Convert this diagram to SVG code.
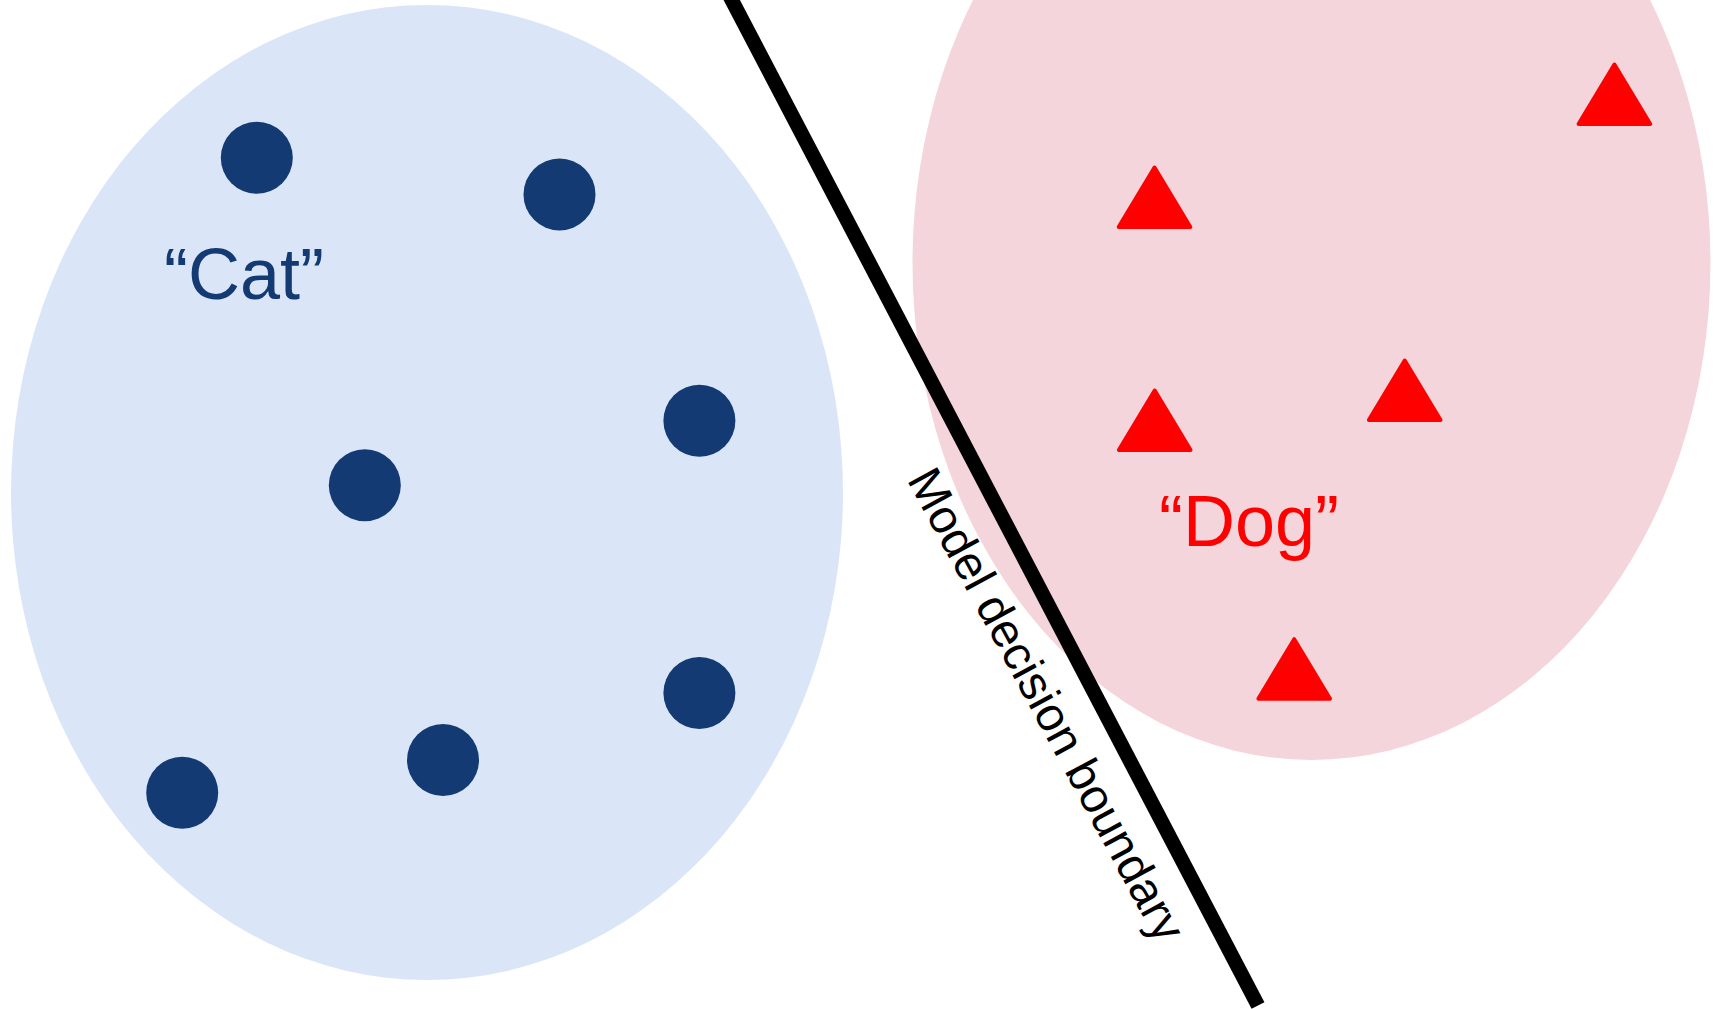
<svg xmlns="http://www.w3.org/2000/svg" width="1714" height="1009" viewBox="0 0 1714 1009">
  <style>
    .cat { fill: #133A72; }
    .dog { fill: #FF0000; stroke: #FF0000; stroke-width: 4; stroke-linejoin: round; }
    .lbl { font-family: "Liberation Sans", Arial, sans-serif; }
  </style>
  <defs>
    <path id="tri" d="M0,2 L35.8,61.5 L-35.8,61.5 Z"/>
  </defs>
  <rect width="1714" height="1009" fill="#FFFFFF"/>
  <g id="cat-region">
    <ellipse cx="427" cy="492.5" rx="416" ry="487.5" fill="#DAE6F8"/>
  </g>
  <g id="dog-region">
    <ellipse cx="1311.5" cy="263" rx="399" ry="497" fill="#F5D5DC"/>
  </g>
  <g id="boundary">
    <line x1="726.5" y1="-10" x2="1258" y2="1005.5" stroke="#000000" stroke-width="14.5" stroke-linecap="butt"/>
    <text class="lbl" x="0" y="0" font-size="47.6" fill="#000000" transform="translate(906.6,479.6) rotate(61.6)">Model decision boundary</text>
  </g>
  <g id="cat-points">
    <circle class="cat" cx="256.8" cy="157.8" r="36"/>
    <circle class="cat" cx="559.5" cy="194.4" r="36"/>
    <circle class="cat" cx="699.4" cy="420.8" r="36"/>
    <circle class="cat" cx="364.8" cy="485.2" r="36"/>
    <circle class="cat" cx="699.4" cy="693" r="36"/>
    <circle class="cat" cx="443" cy="760" r="36"/>
    <circle class="cat" cx="182.2" cy="792.7" r="36"/>
  </g>
  <g id="cat-label">
    <text class="lbl" x="164" y="299" font-size="72" fill="#133A72">“Cat”</text>
  </g>
  <g id="dog-points">
    <use href="#tri" class="dog" x="1154.5" y="165.5"/>
    <use href="#tri" class="dog" x="1154.7" y="388.5"/>
    <use href="#tri" class="dog" x="1404.7" y="358.5"/>
    <use href="#tri" class="dog" x="1614.4" y="62.5"/>
    <use href="#tri" class="dog" x="1294.2" y="637.2"/>
  </g>
  <g id="dog-label">
    <text class="lbl" x="1159" y="546" font-size="72" fill="#FF0000">“Dog”</text>
  </g>
</svg>
